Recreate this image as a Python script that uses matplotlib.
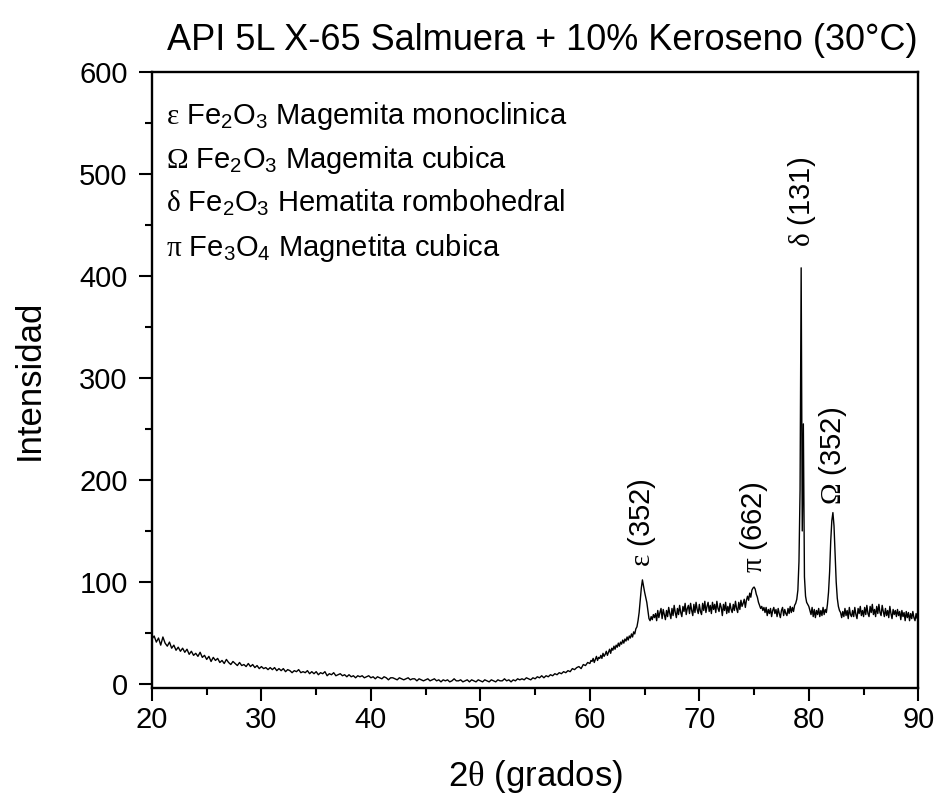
import numpy as np
import matplotlib
matplotlib.use("Agg")
import matplotlib.pyplot as plt
from matplotlib.ticker import MultipleLocator

plt.rcParams['font.family'] = ['Liberation Sans', 'DejaVu Sans']
plt.rcParams['mathtext.fontset'] = 'custom'
plt.rcParams['mathtext.rm'] = 'Liberation Serif'
plt.rcParams['mathtext.it'] = 'Liberation Serif'
plt.rcParams['mathtext.sf'] = 'Liberation Sans'

# 2theta from 20.0 to 59.8 (step 0.2)
tt_low = np.linspace(20, 59.8, 200)
int_low = [
    44, 47, 41, 45, 38, 46, 40, 37, 41, 35,
    38, 33, 36, 32, 35, 31, 34, 29, 32, 28,
    30, 27, 31, 26, 28, 24, 27, 22, 26, 23,
    25, 21, 23, 20, 24, 21, 19, 22, 20, 18,
    21, 18, 19, 17, 20, 17, 19, 16, 18, 15,
    17, 15, 16, 14, 16, 14, 16, 13, 15, 13,
    15, 12, 14, 13, 11, 13, 12, 14, 11, 12,
    11, 13, 10, 12, 10, 12, 9, 11, 10, 12,
    8, 10, 9, 11, 8, 9, 10, 8, 9, 7,
    9, 7, 8, 6, 8, 7, 8, 6, 7, 8,
    6, 7, 5, 7, 6, 5, 7, 6, 4, 6,
    6, 5, 4, 6, 5, 4, 5, 6, 4, 5,
    5, 3, 5, 4, 3, 4, 5, 3, 4, 5,
    3, 4, 2, 4, 3, 4, 2, 3, 5, 3,
    3, 4, 2, 3, 4, 2, 4, 3, 2, 4,
    3, 2, 4, 3, 2, 4, 3, 2, 4, 3,
    3, 5, 3, 4, 2, 4, 3, 5, 4, 5,
    4, 6, 5, 4, 6, 5, 7, 6, 8, 6,
    8, 7, 9, 8, 10, 9, 11, 10, 12, 11,
    13, 12, 15, 14, 16, 17, 15, 19, 18, 21,
]

# 2theta from 60.0 to 90.0 (step 0.1)
tt_high = np.linspace(60, 90, 301)
int_high = [
    20, 23, 22, 25, 21, 24, 27, 23, 26, 25,
    28, 25, 30, 27, 29, 32, 28, 31, 34, 30,
    35, 33, 37, 34, 38, 36, 40, 37, 41, 39,
    43, 40, 44, 42, 46, 43, 47, 45, 49, 46,
    51, 49, 54, 56, 62, 70, 82, 94, 102, 96,
    90, 85, 80, 72, 64, 62, 66, 63, 68, 65,
    69, 62, 72, 65, 70, 74, 64, 73, 68, 63,
    72, 66, 75, 69, 64, 74, 67, 77, 70, 65,
    74, 68, 77, 70, 66, 76, 71, 79, 68, 74,
    77, 69, 79, 72, 67, 78, 70, 80, 73, 69,
    78, 71, 68, 79, 72, 81, 70, 76, 80, 71,
    77, 69, 80, 73, 78, 70, 81, 74, 71, 79,
    75, 67, 78, 72, 80, 69, 76, 70, 79, 73,
    70, 78, 72, 81, 74, 70, 80, 73, 82, 76,
    79, 83, 75, 82, 86, 82, 89, 85, 92, 94,
    95, 93, 88, 85, 80, 77, 74, 76, 72, 75,
    70, 75, 67, 73, 69, 74, 66, 72, 75, 69,
    73, 66, 74, 69, 65, 72, 75, 67, 73, 69,
    67, 74, 69, 76, 70, 75, 71, 77, 79, 83,
    92, 120, 190, 408, 150, 255, 105, 86, 80, 78,
    76, 72, 68, 75, 66, 73, 65, 72, 68, 74,
    66, 72, 67, 75, 68, 73, 70, 78, 90, 110,
    140, 160, 168, 155, 128, 100, 84, 76, 72, 70,
    65, 71, 66, 74, 67, 72, 64, 75, 68, 66,
    72, 66, 75, 68, 64, 74, 69, 76, 67, 72,
    66, 75, 68, 77, 69, 66, 76, 70, 78, 68,
    73, 66, 76, 69, 78, 70, 67, 77, 71, 66,
    74, 67, 72, 65, 76, 69, 64, 73, 68, 72,
    66, 73, 67, 71, 63, 72, 66, 70, 62, 71,
    65, 70, 62, 69, 64, 71, 65, 62, 69, 64,
    67,
]

two_theta = np.concatenate([tt_low, tt_high])
intensity = np.array(int_low + int_high, dtype=float)

# peak labels: text, 2theta, height of label bottom
peak_text = [r"$\varepsilon$ (352)", r"$\pi$ (662)", r"$\delta$ (131)", r"$\Omega$ (352)"]
peak_pos = [64.8, 75.0, 79.4, 82.2]
peak_y = [115, 109, 428, 175]

phases = [
    r"$\varepsilon$ Fe$_\mathsf{2}$O$_\mathsf{3}$ Magemita monoclinica",
    r"$\Omega$ Fe$_\mathsf{2}$O$_\mathsf{3}$ Magemita cubica",
    r"$\delta$ Fe$_\mathsf{2}$O$_\mathsf{3}$ Hematita rombohedral",
    r"$\pi$ Fe$_\mathsf{3}$O$_\mathsf{4}$ Magnetita cubica",
]
phase_y = [0.9156, 0.8442, 0.7727, 0.7013]

fig = plt.figure(figsize=(9.38, 7.96), dpi=100)
ax = fig.add_axes([0.162, 0.1357, 0.817, 0.7738])
ax.plot(two_theta, intensity, color='black', lw=1.0)

ax.set_xlim(20, 90)
ax.set_ylim(-4, 600)
ax.xaxis.set_major_locator(MultipleLocator(10))
ax.xaxis.set_minor_locator(MultipleLocator(5))
ax.yaxis.set_major_locator(MultipleLocator(100))
ax.yaxis.set_minor_locator(MultipleLocator(50))
ax.tick_params(which='both', direction='out', top=False, right=False, labelsize=21, width=1.5)
ax.tick_params(which='major', length=9.5)
ax.tick_params(which='minor', length=5)
ax.tick_params(axis='x', pad=3.5)
ax.tick_params(axis='y', pad=8)
for s in ax.spines.values():
    s.set_linewidth(1.7)

ax.set_xlabel(r"2$\theta$ (grados)", fontsize=25, labelpad=17)
ax.set_ylabel("Intensidad", fontsize=25, labelpad=24)
ax.set_title(u"API 5L X-65 Salmuera + 10% Keroseno (30\u00b0C)", fontsize=26, pad=16, x=0.51)

for t, x, y in zip(peak_text, peak_pos, peak_y):
    ax.text(x, y, t, rotation=90, ha='center', va='bottom', fontsize=21)

for t, y in zip(phases, phase_y):
    ax.text(0.018, y, t, transform=ax.transAxes, ha='left', va='baseline', fontsize=21)

fig.savefig("out.png", dpi=100)
